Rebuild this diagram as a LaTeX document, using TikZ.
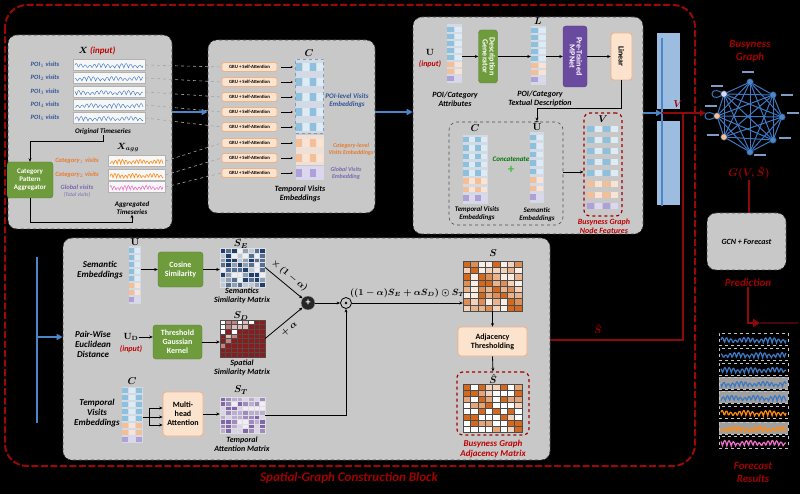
\documentclass[tikz,border=0pt]{standalone}
\usepackage{amsmath,amssymb}
\usepackage{fontspec}
\setmainfont{Carlito}
\usetikzlibrary{arrows.meta,calc}
\definecolor{panelgray}{HTML}{C8C8C8}
\definecolor{darkred}{HTML}{8E0A0A}
\definecolor{inred}{HTML}{C00000}
\definecolor{gbox}{HTML}{6E9B3C}
\definecolor{pbox}{HTML}{6A4A9E}
\definecolor{peach}{HTML}{FBE3CD}
\definecolor{peachd}{HTML}{F0B184}
\definecolor{tblue}{HTML}{2F5597}
\definecolor{torange}{HTML}{E97A2E}
\definecolor{tpurple}{HTML}{7A68B0}
\definecolor{eBa}{HTML}{8DC0DD}
\definecolor{eBb}{HTML}{DDEBF5}
\definecolor{eOa}{HTML}{F4BE96}
\definecolor{eOb}{HTML}{FAE3D2}
\definecolor{ePa}{HTML}{ADA1D8}
\definecolor{ePb}{HTML}{DCD6EF}
\definecolor{colbg}{HTML}{D3DAE3}
\definecolor{navy}{HTML}{1F3F6E}
\definecolor{matred}{HTML}{8E1B1B}
\definecolor{matpur}{HTML}{6B4C9A}
\definecolor{matora}{HTML}{D2691E}
\definecolor{gblue}{HTML}{3D78C2}
\definecolor{barblue}{HTML}{4A86C8}
\definecolor{barlight}{HTML}{9DBDE0}
\definecolor{glab}{HTML}{7F9CC4}
\definecolor{tsor}{HTML}{FF8A12}
\definecolor{tspk}{HTML}{F06ECB}
% embedding row: x y w h ncells colA colB
\newcommand\erow[7]{%
  \pgfmathsetmacro\ecw{#3/#5}%
  \foreach \k in {1,...,#5}{%
    \pgfmathtruncatemacro\od{mod(\k,2)}%
    \ifnum\od=1 \def\cc{#6}\else\def\cc{#7}\fi
    \fill[fill=\cc] ({#1+(\k-1)*\ecw+0.35},{#2}) rectangle ({#1+\k*\ecw-0.35},{#2+#4});
  }}
% embedding column: x y0 w h stride ncells list
\newcommand\ecol[7]{%
  \foreach \cl [count=\n from 0] in {#7}{%
    \erow{#1}{#2+\n*#5}{#3}{#4}{#6}{e\cl a}{e\cl b}%
  }}
% heatmap: x y w h color levels diag gridcolor
\newcommand\heatmap[8]{%
  \pgfmathsetmacro\hw{#3/8}\pgfmathsetmacro\hh{#4/8}%
  \foreach \i in {0,...,7}{\foreach \j in {0,...,7}{%
    \pgfmathrandominteger{\rr}{0}{4}%
    \pgfmathtruncatemacro\lv{{#6}[\rr]}%
    \ifnum\i=\j\relax\ifnum#7>0\relax\pgfmathtruncatemacro\lv{#7}\fi\fi
    \filldraw[fill=#5!\lv!white, draw=#8, line width=0.3pt] ({#1+\j*\hw},{#2+\i*\hh}) rectangle ++(\hw,\hh);
  }}%
  \draw[#8, line width=0.5pt] (#1,#2) rectangle ++(#3,#4);
}
% spatial heatmap
\newcommand\heatsd[4]{%
  \pgfmathsetmacro\hw{#3/8}\pgfmathsetmacro\hh{#4/8}%
  \foreach \i in {0,...,7}{\foreach \j in {0,...,7}{%
    \pgfmathrandominteger{\rr}{0}{3}%
    \pgfmathtruncatemacro\lv{{0,30,55,100}[\rr]}%
    \pgfmathtruncatemacro\inr{(\i+\j<6)}%
    \ifnum\inr=0 \def\lv{100}\fi
    \filldraw[fill=matred!\lv!white, draw=gray!60!black, line width=0.3pt] ({#1+\j*\hw},{#2+\i*\hh}) rectangle ++(\hw,\hh);
  }}}
% time series line: x y w h color phase lw
\newcommand\tsline[7]{%
  \draw[#5, line width=#7] plot[domain=0:1, samples=90, variable=\t]
    ({#1+\t*#3}, {#2+#4-#4*(0.1+0.55*abs(sin(\t*2700+#6))*(0.5+0.5*abs(sin(\t*500+2*#6))))});
}
\begin{document}
\begin{tikzpicture}[x=1pt,y=-1pt,
  panel/.style={draw=black!75, dashed, fill=panelgray, rounded corners=9pt, line width=0.6pt, inner sep=0},
  lab6/.style={font=\fontsize{6}{7}\selectfont\bfseries\itshape, align=center, inner sep=0},
  lab7/.style={font=\fontsize{7}{8}\selectfont\bfseries\itshape, align=center, inner sep=0},
  lab8/.style={font=\fontsize{8}{9}\selectfont\bfseries\itshape, align=center, inner sep=0},
  lab9/.style={font=\fontsize{9}{10}\selectfont\bfseries\itshape, align=center, inner sep=0},
  poilab/.style={font=\fontsize{6.5}{7.5}\selectfont\bfseries\itshape, inner sep=0},
  mlab/.style={font=\fontsize{10}{11}\selectfont\boldmath, inner sep=0},
  gbx/.style={fill=gbox, draw=gbox!80!black, rounded corners=3pt, text=white, font=\fontsize{8}{9}\selectfont\bfseries, align=center, inner sep=0},
  pbx/.style={gbx, fill=pbox, draw=pbox!80!black},
  peachbx/.style={fill=peach, draw=peachd, line width=0.8pt, rounded corners=3pt, text=black, font=\fontsize{8}{9}\selectfont\bfseries, align=center, inner sep=0},
  gru/.style={peachbx, font=\fontsize{4.8}{5.5}\selectfont\bfseries, minimum width=55, minimum height=9, rounded corners=1.5pt},
  reddashbox/.style={draw=inred!85!black, dashed, line width=1.2pt, rounded corners=6pt, inner sep=0},
  colnode/.style={fill=colbg, inner sep=0},
  tsbox/.style={draw=gray!60, fill=gray!6, line width=0.4pt, inner sep=0},
  arr/.style={-{Stealth[length=3.5pt,width=3pt]}, line width=0.8pt, black},
  bluearr/.style={-{Triangle[length=6pt,width=6pt]}, line width=2.2pt, barblue},
  redln/.style={line width=1.6pt, darkred},
  dline/.style={dashed, gray!70, line width=0.6pt},
  gedge/.style={gblue, line width=1pt},
  gnode/.style={circle, draw=gblue!70!black, minimum size=6.5pt, inner sep=0},
  redtxt/.style={text=inred!85!black, font=\fontsize{11}{13}\selectfont\bfseries\itshape, align=center, inner sep=0}
]
\useasboundingbox (0,0) rectangle (800,494);
\fill[black] (0,0) rectangle (800,494);
\pgfmathsetseed{11}

% outer red dashed border
\draw[darkred!90!red, dash pattern=on 7pt off 2.5pt, line width=2pt, rounded corners=22pt] (5,5) rectangle (695,466);

% panels
\node[panel, minimum width=164, minimum height=194] (pA) at (90,132) {};
\node[panel, minimum width=167, minimum height=173] (pB) at (291.5,126.5) {};
\node[panel, minimum width=230, minimum height=217] (pC) at (528,125.5) {};
\node[panel, minimum width=487, minimum height=222] (pD) at (306.5,349) {};
\node[panel, minimum width=79, minimum height=57, font=\fontsize{8}{9}\selectfont\bfseries\itshape] (gcn) at (746.5,241.5) {GCN + Forecast};

% ---------------- Panel A ----------------
\node[font=\fontsize{9}{10}\selectfont\bfseries\itshape, inner sep=0] (xin) at (97,51) {$\boldsymbol{X}$ \textcolor{inred}{(input)}};
\foreach \yy [count=\i] in {65,78,92,105,118}{
  \node[poilab, text=tblue] (pl\i) at (45,\yy) {POI$_{\i}$ visits};
  \node[tsbox, minimum width=72, minimum height=11] (ts\i) at (109,\yy) {};
  \tsline{75}{\yy-4.5}{68}{8.5}{gblue}{\i*41}{0.45pt}
}
\node[lab7] (origts) at (103,132) {Original Timeseries};
\node[gbx, minimum width=46, minimum height=36, font=\fontsize{7}{8}\selectfont\bfseries] (agg) at (30,180) {Category\\Pattern\\Aggregator};
\draw[arr] (origts.south) -- ++(0,6) -| (agg.north);
\node[mlab, font=\fontsize{9}{10}\selectfont\boldmath] (xagg) at (128,147) {$X_{agg}$};
\foreach \yy/\txt/\col/\lc [count=\i from 6] in {161/{Category$_1$ visits}/torange/tsor, 175/{Category$_2$ visits}/torange/tsor, 187/{Global visits}/tpurple/tspk}{
  \node[poilab, text=\col] (cl\i) at (77,\yy) {\txt};
  \node[tsbox, minimum width=57, minimum height=11] (ts\i) at (136.5,\yy) {};
  \tsline{110}{\yy-4.5}{53}{8.5}{\lc}{\i*29}{0.6pt}
}
\node[font=\fontsize{5.5}{6}\selectfont\itshape, text=tpurple, inner sep=0] (totv) at (77,195) {(Total visits)};
\node[lab7] (aggts) at (132,208) {Aggregated\\Timeseries};
\draw[arr] (agg.south) |- ($(aggts.south)+(0,8)$) -- (aggts.south);

% ---------------- Panel B ----------------
\node[mlab] (Cb) at (309,53) {$C$};
\node[colnode, fill=colbg, draw=tblue!60, dashed, line width=0.4pt, minimum width=28, minimum height=74] (cbpoi) at (309.5,96.5) {};
\node[colnode, fill=eOb!70!colbg, minimum width=28, minimum height=30] (cbcat) at (309.5,150.5) {};
\node[colnode, fill=ePb!80!colbg, minimum width=28, minimum height=14] (cbglob) at (309.5,173.5) {};
\foreach \yy/\cl [count=\i] in {67/B,82/B,97/B,112/B,127/B,143/O,158/O,173/P}{
  \node[gru] (gru\i) at (249.5,\yy) {GRU + Self-Attention};
  \node[inner sep=0, minimum width=27, minimum height=9] (row\i) at (309.5,\yy) {};
  \erow{296}{\yy-4}{27}{8}{4}{e\cl a}{e\cl b}
  \draw[arr, -{Stealth[length=2pt,width=2pt]}] ([xshift=4pt]gru\i.east) -- ([xshift=-3pt]row\i.west);
  \draw[dline] (ts\i.east) -- (gru\i.west);
}
\node[lab7, text=tblue] (poiemb) at (347,101) {POI-level Visits\\Embeddings};
\node[lab6, text=torange] (catemb) at (351,149) {Category-level\\Visits Embeddings};
\node[lab6, text=tpurple] (glemb) at (346,173) {Global Visits\\Embedding};
\node[lab8] (tve) at (300,194) {Temporal Visits\\Embeddings};

\draw[bluearr] (pA.east |- gru4.west) -- (pB.west |- gru4.west);
\draw[bluearr] (pB.east |- gru4.west) -- (pC.west |- gru4.west);

% ---------------- Panel C ----------------
\node[mlab, font=\fontsize{9}{10}\selectfont\boldmath] (U) at (430,52) {$\mathbf{U}$};
\node[lab8, text=inred] (uin) at (430,64) {(input)};
\node[colnode, minimum width=15, minimum height=59] (attr) at (454.5,54) {};
\ecol{447}{27}{15}{5}{7}{2}{B,B,B,B,B,O,O,P}
\node[lab8] (attrl) at (455,99) {POI/Category\\Attributes};
\node[gbx, minimum width=19, minimum height=53] (desc) at (488,56.5) {\rotatebox{-90}{\begin{tabular}{@{}c@{}}Description\\[-2pt]Generator\end{tabular}}};
\node[mlab] (Ll) at (538,21) {$L$};
\node[colnode, minimum width=15, minimum height=59] (Lc) at (538.5,55.5) {};
\ecol{531}{28}{15}{5}{7}{2}{B,B,B,B,B,O,O,P}
\node[lab8] (Ltxt) at (540,99) {POI/Category\\Textual Description};
\node[pbx, minimum width=24, minimum height=61] (mp) at (575,56.5) {\rotatebox{-90}{\begin{tabular}{@{}c@{}}Pre-Trained\\[-2pt]MPNet\end{tabular}}};
\node[peachbx, minimum width=21, minimum height=47] (lin) at (621.5,56.5) {\rotatebox{-90}{Linear}};
\draw[arr] (attr.east |- desc.west) -- (desc.west);
\draw[arr] (desc.east) -- (desc.east -| Lc.west);
\draw[arr] (Lc.east |- mp.west) -- (mp.west);
\draw[arr] (mp.east) -- (mp.east -| lin.west);

\node[draw=black!70, dashed, rounded corners=8pt, line width=0.6pt, minimum width=114, minimum height=103, inner sep=0] (cat) at (506,173.5) {};
\node[mlab] (Cc) at (475,128) {$C$};
\node[colnode, minimum width=25, minimum height=69] (ccol) at (475,169.5) {};
\ecol{463}{137}{24}{5.5}{8.3}{4}{B,B,B,B,B,O,O,P}
\node[mlab] (utl) at (537,126) {$\tilde{\mathbf{U}}$};
\node[colnode, minimum width=14, minimum height=71] (ucol) at (536.5,168) {};
\ecol{530}{135}{13}{5.5}{8.5}{2}{B,B,B,B,B,O,O,P}
\draw[arr] (lin.south) -- ++(0,28) -| (utl.north);
\node[lab7, text=green!45!black] (concat) at (511,159) {Concatenate};
\node[text=green!50!gray, font=\fontsize{13}{13}\selectfont\bfseries, inner sep=0] (plus) at (511,170) {+};
\node[lab7] (tvl2) at (477,214) {Temporal Visits\\Embeddings};
\node[lab7] (seml2) at (537,215) {Semantic\\Embeddings};

\node[reddashbox, minimum width=38, minimum height=103] (vbox) at (603,164.5) {};
\node[mlab] (vl) at (603,119) {$V$};
\ecol{587}{126}{31}{6}{11}{4}{B,B,B,B,B,O,O,P}
\draw[arr] (cat.east |- 0,172) -- (vbox.west |- 0,172);
\node[lab8, text=inred] (bgnf) at (604,226) {Busyness Graph\\Node Features};

% ---------------- right side ----------------
\fill[barlight] (657,33) rectangle (680,109);
\fill[barlight] (657,121) rectangle (680,205);
\coordinate (bt) at (662,38);
\coordinate (bb) at (662,206);
\draw[barblue, line width=1.6pt] (bt) -- (bb);
\coordinate (barp) at (662,113);
\draw[bluearr] (pC.east |- barp) -- (barp);

% graph
\foreach \nm/\px/\py/\fc in {g1/750/82/barblue, g2/773/95/barblue, g3/782/117/barblue, g4/773/140/barblue, g5/750/152/barblue, g6/724/137/eOa, g7/717/116/eOa, g8/724/94/ePb}{
  \node[gnode, fill=\fc] (\nm) at (\px,\py) {};
}
\foreach \a in {1,...,8}{\foreach \b in {1,...,8}{\ifnum\a<\b \draw[gedge] (g\a) -- (g\b);\fi}}
\draw[gedge] (g8.150) .. controls +(-12,-7) and +(-12,7) .. (g8.210);
\draw[gedge] (g7.150) .. controls +(-12,-7) and +(-12,7) .. (g7.210);
\foreach \px/\py in {748/72, 787/95, 793/113, 785/138, 760/155, 713/135, 711/106, 717/86}{
  \fill[glab] ({\px-6},{\py-1.3}) rectangle ({\px+6},{\py+1.3});
}
\node[redtxt] (bgt) at (750,51) {Busyness\\Graph};
\node[redtxt, font=\fontsize{11}{13}\selectfont\boldmath] (gvs) at (749,173) {$G(V,\hat{S})$};
\draw[redln] (gvs.south) -- (gvs.south |- gcn.north);

\coordinate (gin) at (706,113);
\draw[redln, -{Triangle[length=6pt,width=6pt]}] (barp) -- (gin);
\node[redtxt, font=\fontsize{10}{12}\selectfont\boldmath] (vr) at (678,104) {$V$};
\coordinate (sj) at (683,113);
\coordinate (sh1) at (683,340);
\draw[redln] (sh1 -| pD.east) -- (sh1) -- (sj);
\node[redtxt, font=\fontsize{10}{12}\selectfont\boldmath] (shr) at (598,329) {$\hat{S}$};

\node[redtxt] (pred) at (748,283) {Prediction};
\coordinate (po) at (760,323);
\draw[redln, -{Triangle[length=7pt,width=8pt]}] (pred.south) |- (po);
\draw[redln, opacity=0.5] (po) -- (798,323);

\foreach \yy/\col/\bg [count=\i] in {339/gblue/black, 354/gblue/black, 369/gblue/black, 383/gblue/gray!75, 397/gblue/gray!75, 412/tsor/black, 428/tsor/gray!75, 442/tspk/black}{
  \node[inner sep=0, minimum width=69, minimum height=12, fill=\bg, draw=gray!45, dashed, line width=0.4pt] (rts\i) at (753.5,\yy) {};
  \tsline{721}{\yy-5}{65}{10}{\col}{\i*37}{1.2pt}
}
\node[redtxt] (fres) at (753,472) {Forecast\\Results};

% left blue bar
\coordinate (lb1) at (37,257);
\coordinate (lb2) at (37,423);
\coordinate (lbm) at (37,337);
\draw[barblue, line width=2.2pt] (lb1) -- (lb2);
\draw[bluearr] (lbm) -- (lbm -| pD.west);

\node[redtxt, font=\fontsize{13}{14}\selectfont\bfseries\itshape] (sgcb) at (349,478) {Spatial-Graph Construction Block};

% ---------------- Panel D ----------------
% row 1
\node[lab9] (seml) at (100,270) {Semantic\\Embeddings};
\node[mlab] (utl2) at (135,241) {$\tilde{\mathbf{U}}$};
\node[colnode, minimum width=12, minimum height=57] (ucol2) at (134.5,275) {};
\ecol{129}{248}{11}{5}{7}{2}{B,B,B,B,B,O,O,P}
\node[gbx, minimum width=45, minimum height=35] (cos) at (180.5,269.5) {Cosine\\Similarity};
\draw[arr] (ucol2.east |- cos.west) -- (cos.west);
\node[inner sep=0, minimum width=45, minimum height=39] (se) at (242.5,267.5) {};
\heatmap{220}{248}{45}{39}{navy}{8,28,50,75,100}{100}{white!75!gray}
\node[mlab] (sel) at (241,244) {$S_E$};
\draw[arr] (cos.east) -- (cos.east -| se.west);
\node[lab8] (sem) at (242,296) {Semantics\\Similarity Matrix};
% row 2
\node[lab9] (pwl) at (93,344) {Pair-Wise\\Euclidean\\Distance};
\node[mlab, font=\fontsize{9}{10}\selectfont\boldmath] (ud) at (131,337) {$\mathbf{U}_{\mathbf{D}}$};
\node[lab8, text=inred] (udin) at (131,349) {(input)};
\node[gbx, minimum width=49, minimum height=34] (tgk) at (177.5,342) {Threshold\\Gaussian\\Kernel};
\draw[arr] (ud.east) -- (ud.east -| tgk.west);
\node[inner sep=0, minimum width=45, minimum height=37] (sd) at (242.5,338.5) {};
\heatsd{220}{320}{45}{37}
\node[mlab] (sdl) at (241,316) {$S_D$};
\draw[arr] (tgk.east) -- (tgk.east -| sd.west);
\node[lab8] (spm) at (242,368) {Spatial\\Similarity Matrix};
% row 3
\node[mlab] (ctl) at (132,381) {$C$};
\node[colnode, minimum width=21, minimum height=56] (ccol3) at (132,414.5) {};
\ecol{122}{388}{20}{5}{7}{3}{B,B,B,B,B,O,O,P}
\node[lab9] (tvl) at (97,413) {Temporal\\Visits\\Embeddings};
\node[peachbx, minimum width=40, minimum height=44] (mha) at (183,414) {Multi-\\head\\Attention};
\coordinate (br) at (149,417);
\coordinate (br1) at (149,408);
\coordinate (br3) at (149,425);
\draw[line width=0.8pt] (ccol3.east |- br) -- (br);
\draw[line width=0.8pt] (br1) -- (br3);
\foreach \c in {br,br1,br3}{\draw[arr] (\c) -- (\c -| mha.west);}
\node[inner sep=0, minimum width=45, minimum height=36] (st) at (242.5,415) {};
\heatmap{220}{397}{45}{36}{matpur}{10,25,45,65,85}{0}{white!75!gray}
\node[mlab] (stl) at (241,390) {$S_T$};
\draw[arr] (mha.east) -- (mha.east -| st.west);
\node[lab8] (tam) at (242,444) {Temporal\\Attention Matrix};
% combination
\node[circle, fill=black!85, draw=gray!60, minimum size=14pt, text=white, inner sep=0, font=\bfseries\fontsize{10}{10}\selectfont] (oplus) at (308,303) {+};
\node[circle, draw=black, line width=0.8pt, minimum size=11pt, inner sep=0] (odot) at (346,303) {};
\fill (odot) circle (1.4);
\draw[arr] (se.east) -- (oplus) node[midway, above=1pt, sloped, font=\fontsize{9}{10}\selectfont\boldmath] {$\times\,(1-\alpha)$};
\draw[arr] (sd.east) -- (oplus) node[midway, below=1pt, sloped, font=\fontsize{9}{10}\selectfont\boldmath] {$+\;\alpha$};
\draw[arr] (oplus) -- (odot);
\draw[arr] (st.east) -| (odot.south);
\node[inner sep=0, minimum width=59, minimum height=50] (smat) at (492.5,286) {};
\heatmap{463}{261}{59}{50}{matora}{12,30,50,75,100}{100}{gray!60!black}
\node[mlab] (sl) at (493,253) {$S$};
\draw[arr] (odot) -- (odot -| smat.west) node[midway, above=2pt, font=\fontsize{9}{10}\selectfont\boldmath] {$((1-\alpha)S_E+\alpha S_D)\odot S_T$};
\node[peachbx, minimum width=69, minimum height=29] (adj) at (492.5,341.5) {Adjacency\\Thresholding};
\draw[arr] (smat.south) -- (adj.north);
\node[reddashbox, minimum width=72, minimum height=63] (shbox) at (493,403.5) {};
\draw[arr] (adj.south) -- (shbox.north);
\node[mlab] (shl2) at (493,379) {$\hat{S}$};
\node[inner sep=0, minimum width=59, minimum height=48] (shm) at (492.5,408) {};
\heatmap{463}{384}{59}{48}{matora}{0,0,30,60,100}{100}{gray!60!black}
\node[lab9, text=inred] (bgam) at (493,449) {Busyness Graph\\Adjacency Matrix};
\end{tikzpicture}
\end{document}
